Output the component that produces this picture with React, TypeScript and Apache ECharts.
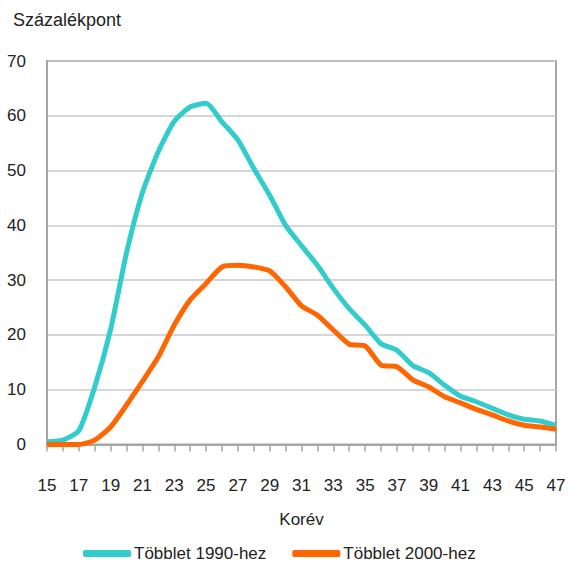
import React, { useEffect, useRef } from "react";
import * as echarts from "echarts";

const ages = [15,16,17,18,19,20,21,22,23,24,25,26,27,28,29,30,31,32,33,34,35,36,37,38,39,40,41,42,43,44,45,46,47];
const surplus1990 = [0.5,0.8,2.5,10.5,21,35,46,53.5,59,61.6,62.3,58.9,55.6,50.4,45.5,40.0,36.3,32.7,28.5,24.8,21.8,18.4,17.2,14.4,13.1,10.8,8.8,7.8,6.6,5.4,4.6,4.3,3.5];
const surplus2000 = [0,0,0,0.8,3.2,7.2,11.5,16.0,21.8,26.4,29.4,32.4,32.7,32.4,31.7,28.8,25.3,23.6,20.9,18.3,18.0,14.5,14.2,11.8,10.5,8.7,7.6,6.4,5.4,4.3,3.5,3.2,2.8];
const seriesNames = ["Többlet 1990-hez", "Többlet 2000-hez"];
const yTitle = "Százalékpont";
const xTitle = "Korév";

const FONT = "'Liberation Sans', Arial, sans-serif";
const FS = 17;

export default function App() {
  const ref = useRef<HTMLDivElement>(null);
  useEffect(() => {
    if (!ref.current) return;
    const chart = echarts.init(ref.current, undefined, { renderer: "svg" });
    chart.setOption({
      animation: false,
      textStyle: { fontFamily: FONT },
      grid: { left: 47, right: 16, top: 61, bottom: 121.5, show: true, borderColor: "#a6a6a6", borderWidth: 2, backgroundColor: "transparent" },
      graphic: [
        { type: "text", left: 13, top: 11, style: { text: yTitle, font: `18px ${FONT}`, fill: "#222" } },
      ],
      legend: {
        top: 540,
        left: 78,
        itemWidth: 48,
        itemHeight: 7,
        itemGap: 26,
        icon: "roundRect",
        textStyle: { fontFamily: FONT, fontSize: FS, color: "#222", padding: [0, 0, 0, -2] },
        data: seriesNames,
      },
      xAxis: {
        type: "category",
        data: ages.map(String),
        boundaryGap: false,
        name: xTitle,
        nameLocation: "middle",
        nameGap: 66,
        nameTextStyle: { fontFamily: FONT, fontSize: FS, color: "#222" },
        axisLine: { lineStyle: { color: "#a6a6a6", width: 2 } },
        axisTick: { show: true, interval: 0, length: 7, lineStyle: { color: "#a6a6a6", width: 1.5 } },
        axisLabel: { interval: 1, margin: 32, fontFamily: FONT, fontSize: FS, color: "#222" },
        splitLine: { show: false },
      },
      yAxis: {
        type: "value",
        min: 0,
        max: 70,
        interval: 10,
        axisLine: { show: true, lineStyle: { color: "#a6a6a6", width: 2 } },
        axisTick: { show: false },
        axisLabel: { margin: 21, fontFamily: FONT, fontSize: FS, color: "#222", padding: [0, 0, 6, 0] },
        splitLine: { lineStyle: { color: "#c8c8c8", width: 1.5 } },
      },
      series: [
        { name: seriesNames[0], type: "line", data: surplus1990, symbol: "none", smooth: 0.2, lineStyle: { color: "#33CCCC", width: 5 }, itemStyle: { color: "#33CCCC" } },
        { name: seriesNames[1], type: "line", data: surplus2000, symbol: "none", smooth: 0.2, lineStyle: { color: "#FF6600", width: 5 }, itemStyle: { color: "#FF6600" } },
      ],
    });
    return () => chart.dispose();
  }, []);
  return <div ref={ref} style={{ width: 572, height: 566, position: "absolute", left: 0, top: 0 }} />;
}
